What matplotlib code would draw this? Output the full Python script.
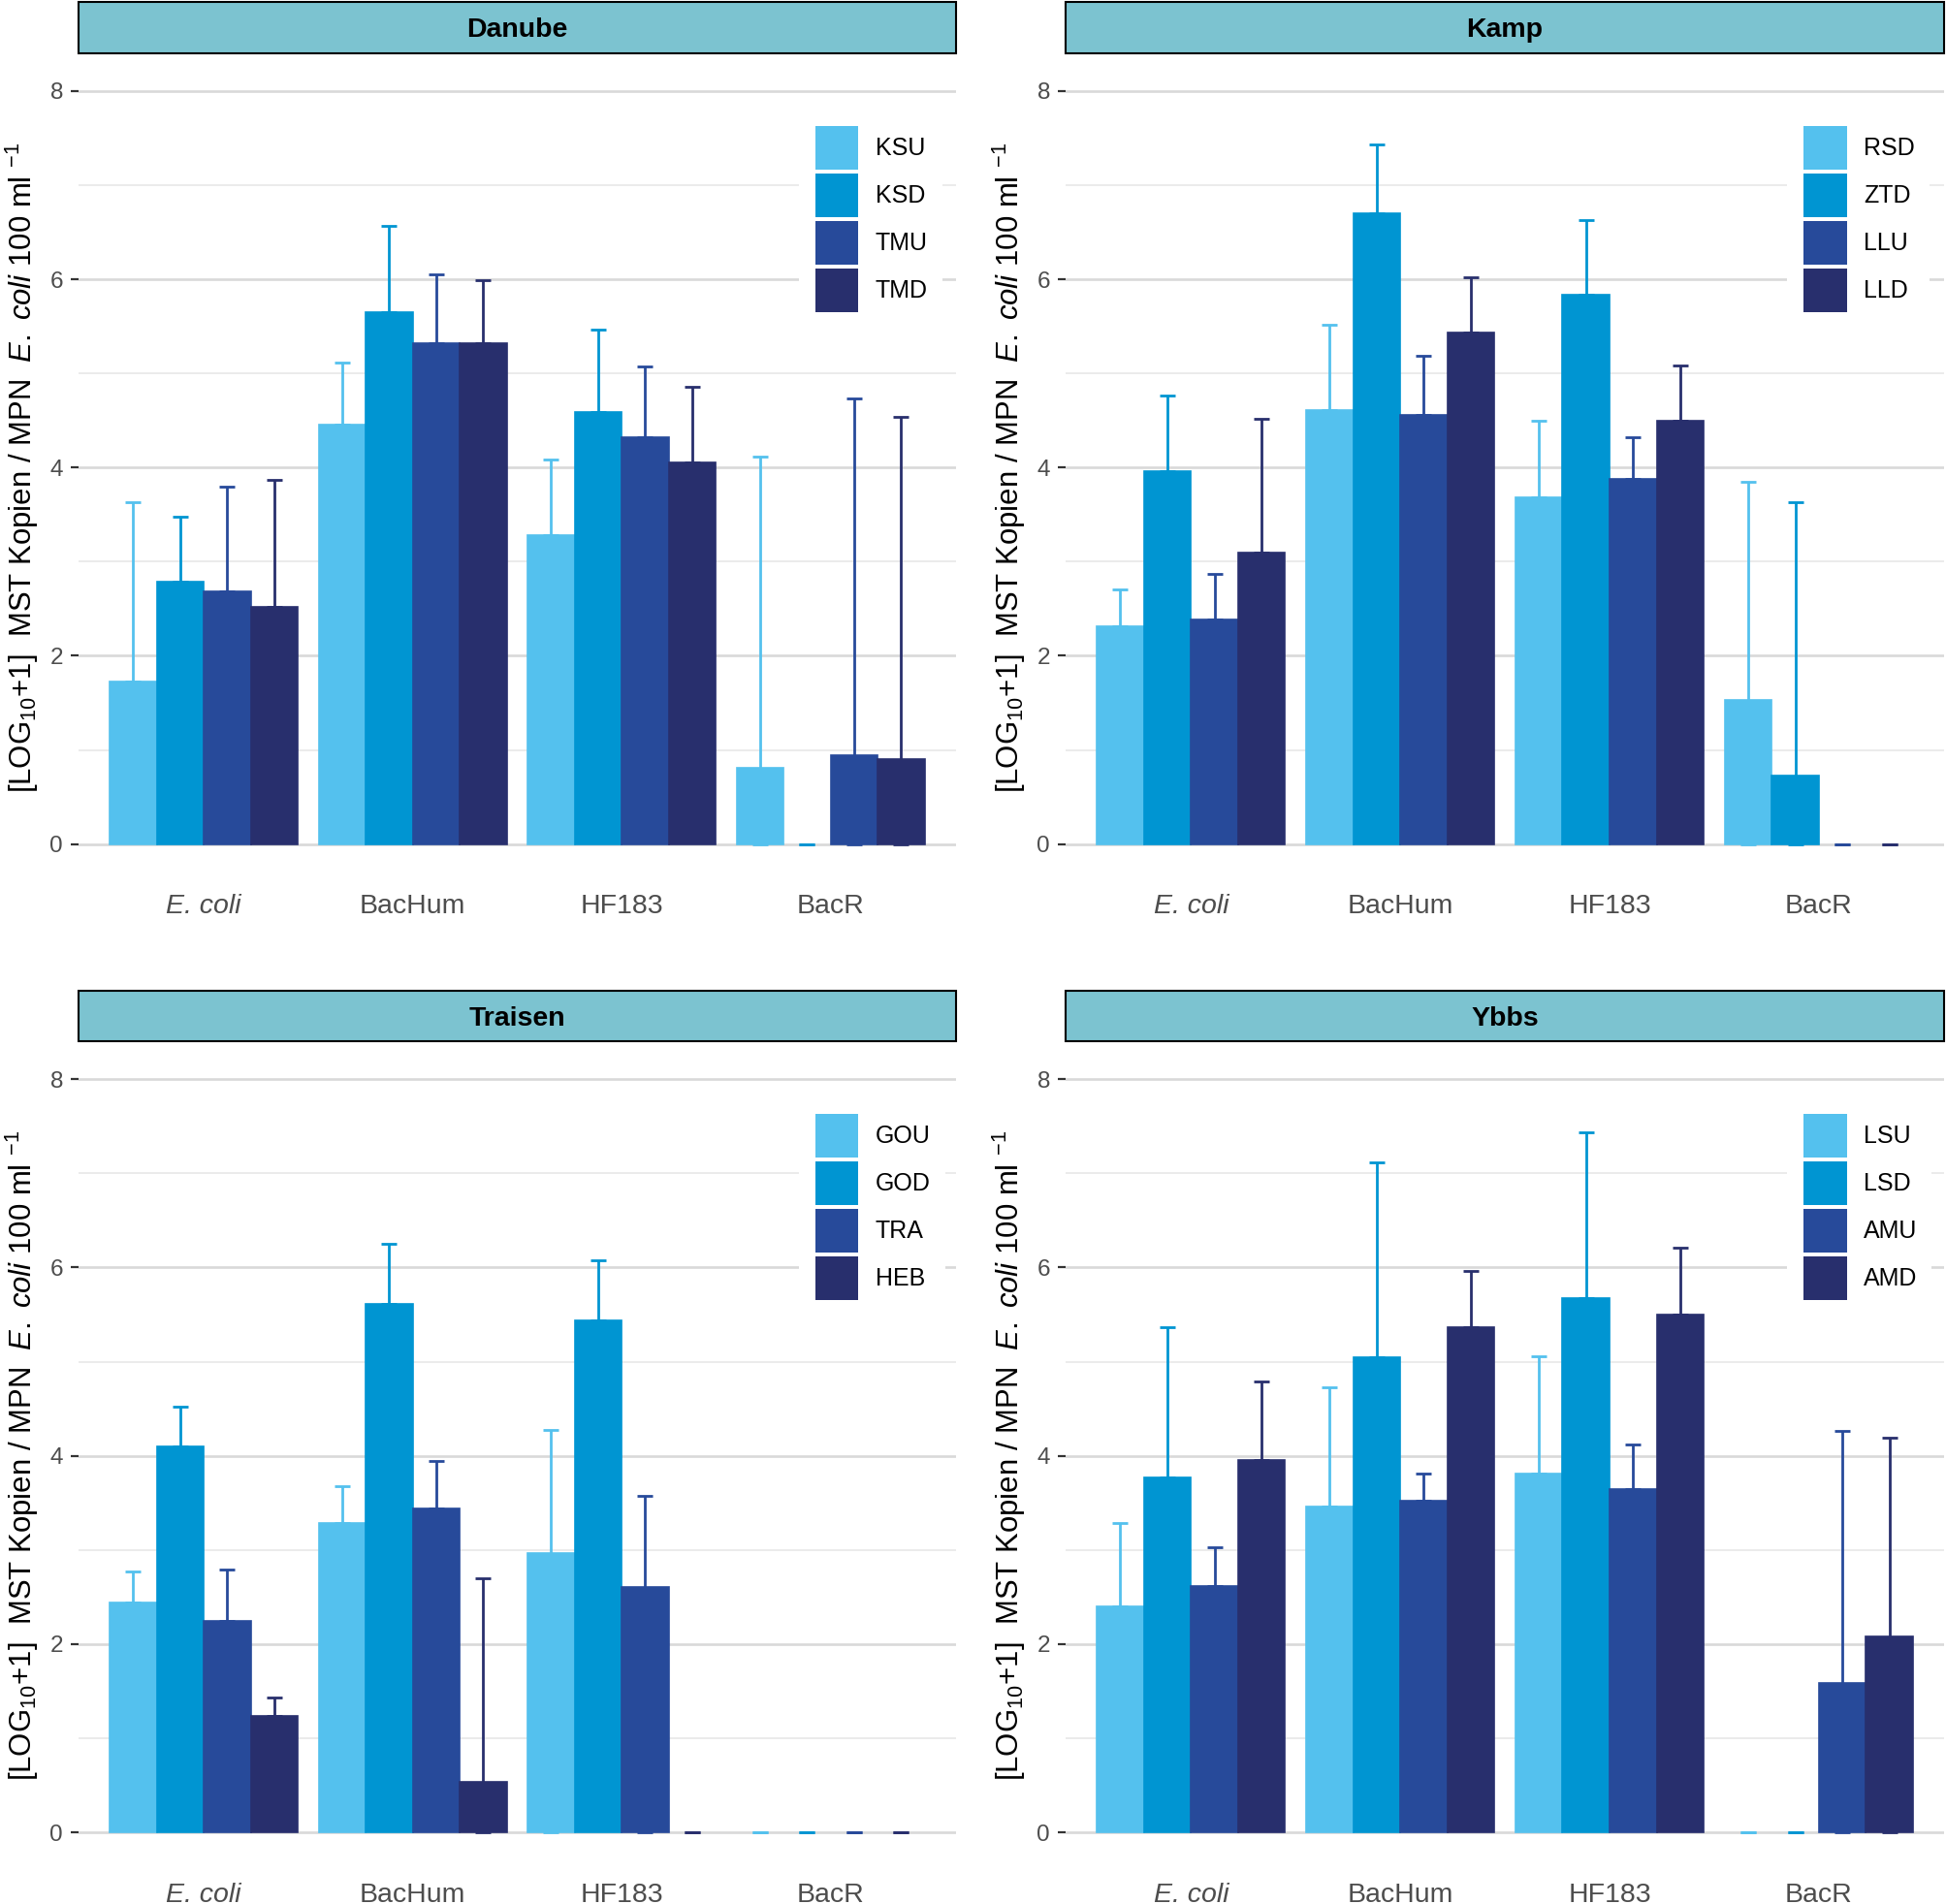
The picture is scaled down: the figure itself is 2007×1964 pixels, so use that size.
import numpy as np
import matplotlib
matplotlib.use("Agg")
import matplotlib.pyplot as plt
from matplotlib.patches import Patch, Rectangle

plt.rcParams['font.family'] = ['Liberation Sans', 'DejaVu Sans']
plt.rcParams['mathtext.fontset'] = 'custom'
plt.rcParams['mathtext.rm'] = 'Liberation Sans'
plt.rcParams['mathtext.it'] = 'Liberation Sans:italic'
plt.rcParams['mathtext.bf'] = 'Liberation Sans:bold'

# ---------------- data ----------------
categories = ["E. coli", "BacHum", "HF183", "BacR"]
rivers = ["Danube", "Kamp", "Traisen", "Ybbs"]
colors = ["#54C1EE", "#0095D2", "#274A9A", "#282F6D"]

danube_sites = ["KSU", "KSD", "TMU", "TMD"]
danube_mean = [[1.73, 4.46, 3.28, 0.81],
               [2.79, 5.65, 4.59, 0.00],
               [2.68, 5.32, 4.32, 0.94],
               [2.52, 5.32, 4.05, 0.90]]
danube_upper = [[3.63, 5.11, 4.09, 4.12],
                [3.48, 6.57, 5.47, 0.00],
                [3.80, 6.05, 5.07, 4.73],
                [3.87, 5.99, 4.86, 4.54]]
danube_lower = [[None, None, None, 0],
                [None, None, None, 0],
                [None, None, None, 0],
                [None, None, None, 0]]

kamp_sites = ["RSD", "ZTD", "LLU", "LLD"]
kamp_mean = [[2.31, 4.61, 3.68, 1.53],
             [3.96, 6.70, 5.84, 0.73],
             [2.39, 4.56, 3.88, 0.00],
             [3.10, 5.43, 4.50, 0.00]]
kamp_upper = [[2.70, 5.52, 4.50, 3.85],
              [4.76, 7.43, 6.63, 3.63],
              [2.87, 5.19, 4.32, 0.00],
              [4.52, 6.02, 5.08, 0.00]]
kamp_lower = [[None, None, None, 0],
              [None, None, None, 0],
              [None, None, None, 0],
              [None, None, None, 0]]

traisen_sites = ["GOU", "GOD", "TRA", "HEB"]
traisen_mean = [[2.44, 3.29, 2.97, 0.00],
                [4.10, 5.61, 5.44, 0.00],
                [2.25, 3.44, 2.61, 0.00],
                [1.24, 0.54, 0.00, 0.00]]
traisen_upper = [[2.77, 3.68, 4.27, 0.00],
                 [4.52, 6.25, 6.08, 0.00],
                 [2.79, 3.94, 3.57, 0.00],
                 [1.43, 2.70, 0.00, 0.00]]
traisen_lower = [[None, None, 0, 0],
                 [None, None, None, 0],
                 [None, None, 0, 0],
                 [None, 0, 0, 0]]

ybbs_sites = ["LSU", "LSD", "AMU", "AMD"]
ybbs_mean = [[2.40, 3.46, 3.81, 0.00],
             [3.77, 5.05, 5.68, 0.00],
             [2.62, 3.52, 3.65, 1.59],
             [3.96, 5.37, 5.50, 2.08]]
ybbs_upper = [[3.29, 4.73, 5.06, 0.00],
              [5.37, 7.12, 7.44, 0.00],
              [3.03, 3.81, 4.12, 4.26],
              [4.79, 5.96, 6.21, 4.19]]
ybbs_lower = [[None, None, None, 0],
              [None, None, None, 0],
              [None, None, None, 0],
              [None, None, None, 0]]

panels = [
    (rivers[0], danube_sites, danube_mean, danube_upper, danube_lower),
    (rivers[1], kamp_sites, kamp_mean, kamp_upper, kamp_lower),
    (rivers[2], traisen_sites, traisen_mean, traisen_upper, traisen_lower),
    (rivers[3], ybbs_sites, ybbs_mean, ybbs_upper, ybbs_lower),
]

# ---------------- layout ----------------
W, H = 2008, 1964
fig = plt.figure(figsize=(W / 100, H / 100), dpi=100)

ax_w_left = (986.0 - 80.7) / W
ax_w_right = (2005.4 - 1098.8) / W
ax_h = (909.5 - 55.0) / H
positions = [
    (80.7 / W, 1 - 909.5 / H, ax_w_left, ax_h),
    (1098.8 / W, 1 - 909.5 / H, ax_w_right, ax_h),
    (80.7 / W, 1 - 1928.9 / H, ax_w_left, ax_h),
    (1098.8 / W, 1 - 1928.9 / H, ax_w_right, ax_h),
]

bar_w = 0.225
offsets = (np.arange(4) - 1.5) * bar_w
strip_h_px = 52.6
ylabel = r"[LOG$_{10}$+1]  MST Kopien / MPN  $\mathit{E.\ coli}$ 100 ml $^{-1}$"

for (name, sites, mean, upper, lower), pos in zip(panels, positions):
    ax = fig.add_axes(pos)
    xbase = np.arange(len(categories))
    for j, site in enumerate(sites):
        x = xbase + offsets[j]
        m = np.array(mean[j], dtype=float)
        up = np.array(upper[j], dtype=float)
        lo = np.array([m[i] if lower[j][i] is None else lower[j][i] for i in range(len(m))], dtype=float)
        ax.errorbar(x, m, yerr=[m - lo, up - m], fmt='none', ecolor=colors[j],
                    elinewidth=2.0, capsize=5.8, capthick=2.0, zorder=2)
        lws = [1.2 if v > 0 else 0.0 for v in m]
        ax.bar(x, m, width=bar_w, color=colors[j], edgecolor=colors[j],
               linewidth=lws, zorder=3, label=site)

    ax.set_xlim(-0.6, 3.6)
    ax.set_ylim(-0.4, 8.4)
    ax.set_xticks(xbase)
    ax.set_xticklabels(categories)
    ax.get_xticklabels()[0].set_fontstyle('italic')
    ax.set_yticks([0, 2, 4, 6, 8])
    ax.set_yticks([1, 3, 5, 7], minor=True)
    ax.tick_params(axis='x', length=0, pad=9.3, labelsize=20.5, labelcolor='#4D4D4D')
    ax.tick_params(axis='y', which='major', length=5.8, width=1.6, color='#333333',
                   pad=5.5, labelsize=17.5, labelcolor='#4D4D4D')
    ax.tick_params(axis='y', which='minor', length=0)
    for s in ax.spines.values():
        s.set_visible(False)
    ax.grid(axis='y', which='major', color='#D9D9D9', linewidth=1.9, zorder=0)
    ax.grid(axis='y', which='minor', color='#E6E6E6', linewidth=1.1, zorder=0)
    ax.grid(axis='x', visible=False)
    ax.set_axisbelow(True)

    ax.set_ylabel(ylabel, fontsize=22.4, color='black')
    ax.yaxis.set_label_coords(-0.0424, 0.5)

    # facet strip
    ax_h_px = ax_h * H
    sh = strip_h_px / ax_h_px
    strip = Rectangle((0, 1.0), 1, sh, transform=ax.transAxes, facecolor='#7CC3D0',
                      edgecolor='black', linewidth=1.5, clip_on=False, zorder=5)
    ax.add_patch(strip)
    ax.text(0.5, 1.0 + sh / 2 - 2.5 / ax_h_px, name, transform=ax.transAxes,
            ha='center', va='center', fontsize=20.5, fontweight='bold',
            color='black', zorder=6)

    handles = [Patch(facecolor=colors[j], edgecolor='white', linewidth=2.88, label=s)
               for j, s in enumerate(sites)]
    leg = ax.legend(handles=handles, loc='upper left', bbox_to_anchor=(0.8206, 0.9321),
                    borderaxespad=0, borderpad=0.6, fontsize=18, handlelength=1.952,
                    handleheight=2.638, labelspacing=0.0, handletextpad=0.62,
                    frameon=True, facecolor='white', edgecolor='none', framealpha=1,
                    fancybox=False)
    leg.set_zorder(4)

fig.savefig("out.png", dpi=100)
